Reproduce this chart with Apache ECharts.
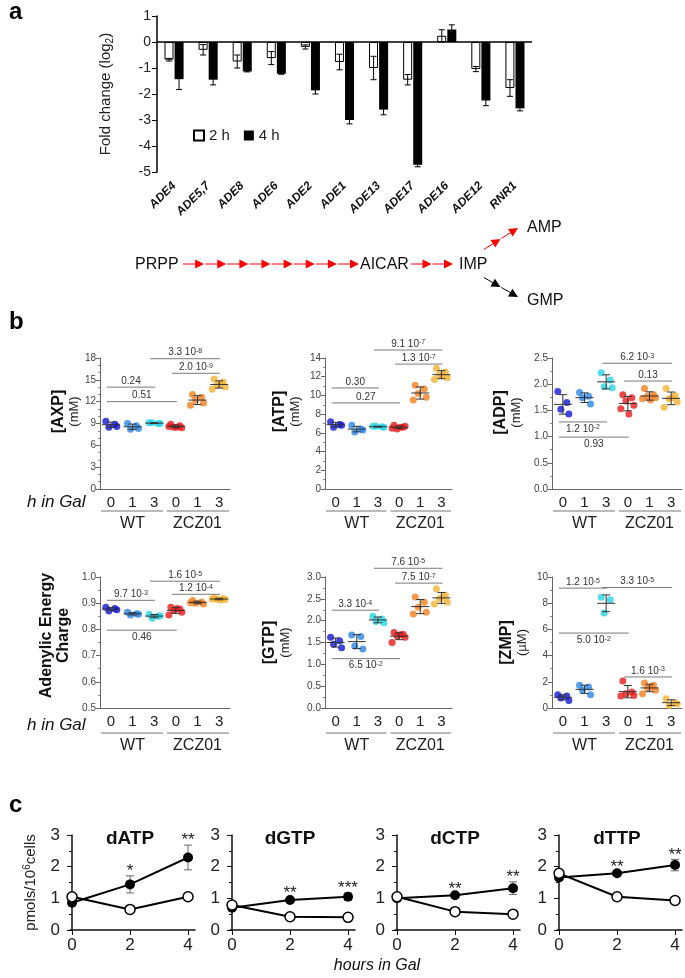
<!DOCTYPE html>
<html>
<head>
<meta charset="utf-8">
<script src="https://cdn.jsdelivr.net/npm/echarts@6/dist/echarts.min.js"></script>
<style>
html, body { margin: 0; padding: 0; background: #fff; }
#main { width: 685px; height: 978px; }
</style>
</head>
<body>
<div id="main"></div>
<script>
// ---------- panel a : fold change of ADE genes ----------
var genes = ['ADE4', 'ADE5,7', 'ADE8', 'ADE6', 'ADE2', 'ADE1', 'ADE13', 'ADE17', 'ADE16', 'ADE12', 'RNR1'];
var fold2h = [-0.68, -0.30, -0.75, -0.62, -0.19, -0.77, -1.00, -1.45, 0.24, -1.04, -1.77];
var err2h  = [0.05, 0.20, 0.25, 0.25, 0.08, 0.30, 0.45, 0.20, 0.23, 0.10, 0.32];
var fold4h = [-1.43, -1.45, -1.13, -1.22, -1.86, -3.00, -2.60, -4.72, 0.48, -2.25, -2.55];
var err4h  = [0.40, 0.20, 0.02, 0.02, 0.14, 0.15, 0.20, 0.08, 0.18, 0.20, 0.10];

// ---------- panel b : nucleotide pools ----------
var hours = ['0', '1', '3', '0', '1', '3'];
var strains = ['WT', 'ZCZ01'];
var axp = [[9.3, 8.9, 8.5, 8.6], [9.0, 8.7, 8.2, 8.3], [9.1, 9.0, 9.1, 9.0],
           [8.9, 8.7, 8.5, 8.4, 8.6, 8.5], [13.0, 12.6, 12.2, 11.8, 11.5], [15.1, 14.7, 14.3, 14.0, 13.7, 14.4]];
var atp = [[7.2, 6.9, 6.6, 6.8], [6.8, 6.4, 6.1, 6.3], [6.7, 6.65, 6.7, 6.6],
           [6.8, 6.6, 6.4, 6.7, 6.5, 6.6], [11.1, 10.7, 10.2, 9.8, 9.5], [12.9, 12.5, 12.2, 11.9, 11.7, 12.1]];
var adp = [[1.86, 1.65, 1.52, 1.43], [1.84, 1.77, 1.74, 1.62], [2.22, 2.08, 1.95, 1.93],
           [1.80, 1.74, 1.68, 1.60, 1.53, 1.43], [1.92, 1.80, 1.77, 1.74, 1.72, 1.70], [1.92, 1.78, 1.72, 1.66, 1.56, 1.74]];
var aec = [[0.885, 0.88, 0.87, 0.875], [0.865, 0.86, 0.855, 0.858], [0.858, 0.85, 0.843, 0.852],
           [0.885, 0.878, 0.872, 0.865, 0.855, 0.88], [0.91, 0.905, 0.90, 0.897, 0.902], [0.92, 0.918, 0.915, 0.914, 0.916, 0.912]];
var gtp = [[1.62, 1.54, 1.46, 1.38], [1.67, 1.64, 1.42, 1.35], [2.10, 2.04, 1.98, 1.95],
           [1.73, 1.69, 1.65, 1.62, 1.50, 1.68], [2.54, 2.42, 2.31, 2.19, 2.15], [2.73, 2.58, 2.50, 2.42, 2.38, 2.52]];
var zmp = [[1.02, 0.91, 0.76, 0.58], [1.73, 1.60, 1.35, 1.02], [8.45, 8.27, 7.26],
           [2.06, 1.22, 1.09, 0.96, 0.91], [1.90, 1.73, 1.52, 1.35, 1.09, 1.60], [0.71, 0.41, 0.20, 0.30]];

// p-value brackets: [from group, to group, level, text, below]
var pAxp = [[0, 2, 14.0, '0.24', 0], [0, 3, 12.0, '0.51', 0], [2, 5, 17.9, '3.3 10{s|-8}', 0], [3, 5, 15.9, '2.0 10{s|-9}', 0]];
var pAtp = [[0, 2, 10.8, '0.30', 0], [0, 3, 9.2, '0.27', 0], [2, 5, 14.85, '9.1 10{s|-7}', 0], [3, 5, 13.35, '1.3 10{s|-7}', 0]];
var pAdp = [[2, 5, 2.40, '6.2 10{s|-3}', 0], [3, 5, 2.06, '0.13', 0], [0, 2, 1.28, '1.2 10{s|-2}', 1], [0, 3, 0.99, '0.93', 1]];
var pAec = [[2, 5, 0.984, '1.6 10{s|-5}', 0], [3, 5, 0.934, '1.2 10{s|-4}', 0], [0, 2, 0.911, '9.7 10{s|-3}', 0], [0, 3, 0.797, '0.46', 1]];
var pGtp = [[2, 5, 3.20, '7.6 10{s|-5}', 0], [3, 5, 2.86, '7.5 10{s|-7}', 0], [0, 2, 2.24, '3.3 10{s|-4}', 0], [0, 3, 1.13, '6.5 10{s|-2}', 1]];
var pZmp = [[0, 2, 9.15, '1.2 10{s|-5}', 0], [2, 5, 9.2, '3.3 10{s|-5}', 0], [0, 3, 5.72, '5.0 10{s|-2}', 1], [3, 5, 2.37, '1.6 10{s|-3}', 0]];

// ---------- panel c : dNTP pools ----------
var hrs = [0, 2, 4];
var dntps = ['dATP', 'dGTP', 'dCTP', 'dTTP'];
var zczMean = [[0.86, 1.44, 2.29], [0.70, 0.95, 1.05], [1.00, 1.10, 1.32], [1.66, 1.79, 2.05]];
var zczErr  = [[0.08, 0.27, 0.39], [0.06, 0.06, 0.12], [0.08, 0.05, 0.20], [0.10, 0.05, 0.18]];
var wtMean  = [[1.05, 0.65, 1.05], [0.79, 0.42, 0.40], [1.05, 0.58, 0.50], [1.79, 1.05, 0.93]];
var wtErr   = [[0.10, 0.03, 0.03], [0.05, 0.03, 0.03], [0.08, 0.03, 0.03], [0.10, 0.03, 0.03]];
var stars   = [['', '*', '**'], ['', '**', '***'], ['', '**', '**'], ['', '**', '**']];

var FONT = '"Liberation Sans", Arial, sans-serif';
var GCOL = ['#1018d8', '#2a86e6', '#26d4e6', '#e81a1a', '#f57f1e', '#f3b233'];
var JIT = [-5, 4, -2, 6, -7, 1];

function mean(a) { var s = 0; a.forEach(function (v) { s += v; }); return s / a.length; }
function sd(a) { var m = mean(a), s = 0; a.forEach(function (v) { s += (v - m) * (v - m); }); return Math.sqrt(s / (a.length - 1)); }

function ln(x1, y1, x2, y2, c, w) {
  return { type: 'line', shape: { x1: x1, y1: y1, x2: x2, y2: y2 }, style: { stroke: c, lineWidth: w || 1 } };
}

var grids = [], xAxes = [], yAxes = [], series = [], els = [];

// ---- panel a ----
grids.push({ left: 157, top: 16, width: 375, height: 156 });
xAxes.push({
  type: 'category', gridIndex: 0, data: genes,
  axisLine: { show: false }, axisTick: { show: false },
  axisLabel: { rotate: 45, margin: 12, interval: 0, fontStyle: 'italic', fontWeight: 'bold', fontSize: 12, color: '#111', fontFamily: FONT }
});
yAxes.push({
  type: 'value', gridIndex: 0, min: -5, max: 1, interval: 1,
  splitLine: { show: false },
  axisLine: { show: true, lineStyle: { color: '#000', width: 1.5 } },
  axisTick: { show: true, length: 5, lineStyle: { color: '#000' } },
  axisLabel: { fontSize: 14, color: '#222', margin: 6, fontFamily: FONT },
  name: '{n|Fold change (log}{sub|2}{n|)}', nameLocation: 'middle', nameGap: 42,
  nameTextStyle: { fontFamily: FONT, rich: { n: { fontSize: 15, color: '#222', lineHeight: 18 }, sub: { fontSize: 10, color: '#222', lineHeight: 10, verticalAlign: 'bottom' } } }
});
function barErr(off) {
  return function (params, api) {
    var i = api.value(0), v = api.value(1), e = api.value(2);
    var p0 = api.coord([i, v - e]), p1 = api.coord([i, v + e]);
    var x = p0[0] + off;
    return { type: 'group', children: [
      ln(x, p0[1], x, p1[1], '#000'), ln(x - 3, p0[1], x + 3, p0[1], '#000'), ln(x - 3, p1[1], x + 3, p1[1], '#000')
    ] };
  };
}
series.push({
  name: '2 h', type: 'bar', xAxisIndex: 0, yAxisIndex: 0, data: fold2h, barWidth: 9, barGap: '12%',
  itemStyle: { color: '#fff', borderColor: '#000', borderWidth: 1 }
});
series.push({
  name: '4 h', type: 'bar', xAxisIndex: 0, yAxisIndex: 0, data: fold4h, barWidth: 9,
  itemStyle: { color: '#000' },
  markLine: { silent: true, symbol: ['none', 'none'], label: { show: false }, lineStyle: { color: '#000', width: 1.5, type: 'solid' }, data: [{ yAxis: 0 }] }
});
series.push({ type: 'custom', xAxisIndex: 0, yAxisIndex: 0, renderItem: barErr(-5), z: 5,
  data: genes.map(function (g, i) { return [i, fold2h[i], err2h[i]]; }) });
series.push({ type: 'custom', xAxisIndex: 0, yAxisIndex: 0, renderItem: barErr(5), z: 5,
  data: genes.map(function (g, i) { return [i, fold4h[i], err4h[i]]; }) });

// ---- panel b ----
var bPanels = [
  { label: '{b|[AXP]}\n{u|(mM)}', data: axp, min: 0, max: 18, interval: 3, minor: 3, dec: 0, p: pAxp, gap: 18, pad: 24 },
  { label: '{b|[ATP]}\n{u|(mM)}', data: atp, min: 0, max: 14, interval: 2, minor: 2, dec: 0, p: pAtp, gap: 23, pad: 24 },
  { label: '{b|[ADP]}\n{u|(mM)}', data: adp, min: 0, max: 2.5, interval: 0.5, minor: 2, dec: 1, p: pAdp, gap: 29, pad: 22 },
  { label: '{b|Adenylic Energy}\n{b|Charge}', data: aec, min: 0.5, max: 1.0, interval: 0.1, minor: 2, dec: 1, p: pAec, gap: 28, pad: 14 },
  { label: '{b|[GTP]}\n{u|(mM)}', data: gtp, min: 0, max: 3.0, interval: 0.5, minor: 2, dec: 1, p: pGtp, gap: 33, pad: 0 },
  { label: '{b|[ZMP]}\n{u|(\u00b5M)}', data: zmp, min: 0, max: 10, interval: 2, minor: 2, dec: 0, p: pZmp, gap: 23, pad: 0 }
];
var bLeft = [100, 325, 552], bWidth = [130, 127, 130], bTop = [358, 577], bHeight = [131, 131];

function meanSd(params, api) {
  var x = api.value(0), m = api.value(1), s = api.value(2);
  var c = api.coord([x, m]), hi = api.coord([x, m + s]), lo = api.coord([x, m - s]);
  var col = '#333';
  return { type: 'group', children: [
    ln(c[0] - 9, c[1], c[0] + 9, c[1], col), ln(c[0], hi[1], c[0], lo[1], col),
    ln(c[0] - 4, hi[1], c[0] + 4, hi[1], col), ln(c[0] - 4, lo[1], c[0] + 4, lo[1], col)
  ] };
}
function bracketRender(br) {
  return function (params, api) {
    var b = br[params.dataIndex];
    var p0 = api.coord([b[0], b[2]]), p1 = api.coord([b[1], b[2]]);
    var x0 = p0[0] - 4, x1 = p1[0] + 1, y = p0[1];
    return { type: 'group', children: [
      ln(x0, y, x1, y, '#7a7a7a'),
      { type: 'text', style: {
        text: b[3], x: (x0 + x1) / 2, y: b[4] ? y + 2 : y - 1, align: 'center', verticalAlign: b[4] ? 'top' : 'bottom',
        fill: '#333', fontFamily: FONT, fontSize: 10,
        rich: { s: { fontSize: 7, lineHeight: 7, verticalAlign: 'top', fill: '#333', fontFamily: FONT } }
      } }
    ] };
  };
}

bPanels.forEach(function (bp, k) {
  var gi = 1 + k, col = k % 3, row = Math.floor(k / 3);
  var left = bLeft[col], width = bWidth[col], top = bTop[row], height = bHeight[row];
  grids.push({ left: left, top: top, width: width, height: height });
  xAxes.push({
    type: 'category', gridIndex: gi, data: hours,
    axisLine: { lineStyle: { color: '#666' } },
    axisTick: { alignWithLabel: true, length: 4, lineStyle: { color: '#666' } },
    axisLabel: { fontSize: 15, color: '#222', margin: 6, fontFamily: FONT }
  });
  yAxes.push({
    type: 'value', gridIndex: gi, min: bp.min, max: bp.max, interval: bp.interval,
    splitLine: { show: false },
    axisLine: { show: true, lineStyle: { color: '#666' } },
    axisTick: { show: true, length: 4, lineStyle: { color: '#666' } },
    minorTick: { show: true, splitNumber: bp.minor, length: 2, lineStyle: { color: '#888' } },
    axisLabel: { fontSize: 10, color: '#444', margin: 4, fontFamily: FONT, formatter: function (v) { return v.toFixed(bp.dec); } },
    name: bp.label, nameLocation: 'middle', nameGap: bp.gap,
    nameTextStyle: { fontFamily: FONT, padding: [0, 0, 0, bp.pad], rich: {
      b: { fontSize: 16, fontWeight: 'bold', color: '#111', lineHeight: 17, fontFamily: FONT },
      u: { fontSize: 13, color: '#222', lineHeight: 14, fontFamily: FONT } } }
  });
  var pts = [];
  bp.data.forEach(function (grp, g) {
    grp.forEach(function (v, j) {
      pts.push({ value: [g, v], symbolOffset: [JIT[j % JIT.length], 0], itemStyle: { color: GCOL[g] } });
    });
  });
  series.push({ type: 'scatter', xAxisIndex: gi, yAxisIndex: gi, symbolSize: 7, data: pts, z: 3 });
  series.push({ type: 'custom', xAxisIndex: gi, yAxisIndex: gi, renderItem: meanSd, z: 4,
    data: bp.data.map(function (grp, g) { return [g, mean(grp), sd(grp)]; }) });
  series.push({ type: 'custom', xAxisIndex: gi, yAxisIndex: gi, renderItem: bracketRender(bp.p), z: 4, encode: { x: 0, y: 2 },
    data: bp.p.map(function (b) { return [b[0], b[1], b[2]]; }) });

  // group underline + strain names
  var cw = width / 6, gy = top + height + (row === 0 ? 22 : 25);
  els.push(ln(left + 1, gy, left + 3 * cw - 2, gy, '#777'));
  els.push(ln(left + 3 * cw + 2, gy, left + width - 1, gy, '#777'));
  strains.forEach(function (s, i) {
    els.push({ type: 'text', style: { text: s, x: left + cw * (1.5 + 3 * i), y: gy + 13, align: 'center', verticalAlign: 'middle',
      fontSize: 16, fontFamily: FONT, fill: '#222' } });
  });
});

// ---- panel c ----
var cLeft = [70, 230, 395, 557];
function cErr(starRow) {
  return function (params, api) {
    var x = api.value(0), v = api.value(1), e = api.value(2);
    var lo = api.coord([x, v - e]), hi = api.coord([x, v + e]);
    var ch = [ln(lo[0], lo[1], hi[0], hi[1], '#666'), ln(lo[0] - 4, lo[1], lo[0] + 4, lo[1], '#666'), ln(hi[0] - 4, hi[1], hi[0] + 4, hi[1], '#666')];
    if (starRow && starRow[params.dataIndex]) {
      ch.push({ type: 'text', style: { text: starRow[params.dataIndex], x: hi[0], y: hi[1] + 4, align: 'center', verticalAlign: 'bottom',
        fontSize: 17, fontFamily: FONT, fill: '#222' } });
    }
    return { type: 'group', children: ch };
  };
}
dntps.forEach(function (name, k) {
  var gi = 7 + k;
  grids.push({ left: cLeft[k], top: 835, width: 125, height: 95 });
  xAxes.push({
    type: 'value', gridIndex: gi, min: -0.07, max: 4.24,
    splitLine: { show: false },
    axisLine: { lineStyle: { color: '#111', width: 1.5 } },
    axisTick: { show: true, customValues: hrs, length: 5, lineStyle: { color: '#111' } },
    axisLabel: { customValues: hrs, fontSize: 17, color: '#222', margin: 7, fontFamily: FONT }
  });
  yAxes.push({
    type: 'value', gridIndex: gi, min: 0, max: 3, interval: 1,
    splitLine: { show: false },
    axisLine: { show: true, lineStyle: { color: '#111', width: 1.5 } },
    axisTick: { show: true, length: 5, lineStyle: { color: '#111' } },
    minorTick: { show: true, splitNumber: 2, length: 3, lineStyle: { color: '#111' } },
    axisLabel: { fontSize: 17, color: '#222', margin: 10, fontFamily: FONT },
    name: k === 0 ? '{n|pmols/10}{s|6}{n|cells}' : '', nameLocation: 'middle', nameGap: 30,
    nameTextStyle: { fontFamily: FONT, rich: { n: { fontSize: 15, color: '#222', lineHeight: 18 }, s: { fontSize: 10, color: '#222', lineHeight: 10, verticalAlign: 'top' } } }
  });
  series.push({ type: 'custom', xAxisIndex: gi, yAxisIndex: gi, renderItem: cErr(null), z: 2,
    data: hrs.map(function (h, i) { return [h, wtMean[k][i], wtErr[k][i]]; }) });
  series.push({ type: 'custom', xAxisIndex: gi, yAxisIndex: gi, renderItem: cErr(stars[k]), z: 2,
    data: hrs.map(function (h, i) { return [h, zczMean[k][i], zczErr[k][i]]; }) });
  series.push({ type: 'line', xAxisIndex: gi, yAxisIndex: gi, z: 3,
    data: hrs.map(function (h, i) { return [h, zczMean[k][i]]; }),
    symbol: 'circle', symbolSize: 10, itemStyle: { color: '#000' }, lineStyle: { color: '#000', width: 2 } });
  series.push({ type: 'line', xAxisIndex: gi, yAxisIndex: gi, z: 4,
    data: hrs.map(function (h, i) { return [h, wtMean[k][i]]; }),
    symbol: 'circle', symbolSize: 10, showAllSymbol: true, itemStyle: { color: '#fff', borderColor: '#000', borderWidth: 1.5 },
    lineStyle: { color: '#000', width: 2 } });
  els.push({ type: 'text', style: { text: name, x: cLeft[k] + 60, y: 839, align: 'center', verticalAlign: 'middle',
    fontSize: 19, fontWeight: 'bold', fontFamily: FONT, fill: '#111' } });
});

// ---- annotations: panel letters, pathway, axis captions ----
function letter(t, x, y) {
  return { type: 'text', style: { text: t, x: x, y: y, verticalAlign: 'middle', fontSize: 24, fontWeight: 'bold', fontFamily: FONT, fill: '#000' } };
}
els.push(letter('a', 9, 12), letter('b', 9, 322), letter('c', 9, 805));

function word(t, x, y, extra) {
  var s = { text: t, x: x, y: y, verticalAlign: 'middle', fontSize: 16, fontFamily: FONT, fill: '#111' };
  for (var k in extra) s[k] = extra[k];
  return { type: 'text', style: s };
}
els.push(word('PRPP', 135, 265), word('AICAR', 360, 265), word('IMP', 459, 265), word('AMP', 527, 228), word('GMP', 527, 301));
els.push(word('h in Gal', 27, 502, { fontStyle: 'italic', fontSize: 17 }), word('h in Gal', 27, 725, { fontStyle: 'italic', fontSize: 17 }));
els.push(word('hours in Gal', 377, 966, { align: 'center', fontStyle: 'italic', fontSize: 16 }));

function arrowChain(x0, y0, x1, y1, n, color) {
  var out = [];
  var dx = (x1 - x0) / n, dy = (y1 - y0) / n, len = Math.sqrt(dx * dx + dy * dy);
  var ux = dx / len, uy = dy / len;
  for (var k = 0; k < n; k++) {
    var sx = x0 + dx * k, sy = y0 + dy * k, ex = sx + dx, ey = sy + dy;
    out.push(ln(sx + ux, sy + uy, ex - ux * 8, ey - uy * 8, color, 1));
    var bx = ex - ux * 9, by = ey - uy * 9;
    out.push({ type: 'polygon', shape: { points: [[ex, ey], [bx - uy * 4.5, by + ux * 4.5], [bx + uy * 4.5, by - ux * 4.5]] }, style: { fill: color } });
  }
  return out;
}
els = els.concat(arrowChain(182, 264, 359, 264, 8, '#ff0000'));
els = els.concat(arrowChain(410, 264, 453, 264, 2, '#ff0000'));
els = els.concat(arrowChain(483, 250, 518, 228, 2, '#ff0000'));
els = els.concat(arrowChain(483, 277, 518, 297, 2, '#000000'));

var option = {
  animation: false,
  backgroundColor: '#fff',
  textStyle: { fontFamily: FONT },
  grid: grids,
  xAxis: xAxes,
  yAxis: yAxes,
  legend: {
    data: ['2 h', '4 h'], left: 188, top: 123, icon: 'rect', itemWidth: 10, itemHeight: 10, itemGap: 14, selectedMode: false,
    textStyle: { fontSize: 15, color: '#222', fontFamily: FONT }
  },
  series: series,
  graphic: { elements: els }
};

var chart = echarts.init(document.getElementById('main'));
chart.setOption(option);
</script>
</body>
</html>
